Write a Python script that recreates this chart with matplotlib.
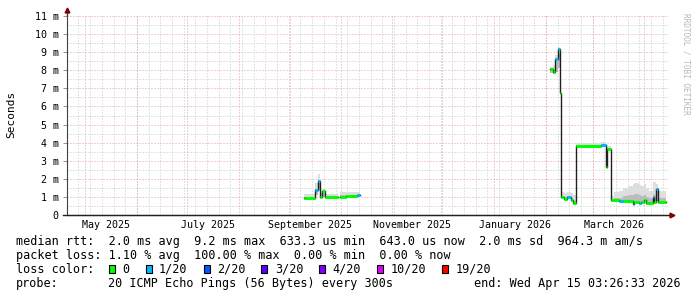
import numpy as np
import pandas as pd
import matplotlib
matplotlib.use("Agg")
import matplotlib.pyplot as plt
import matplotlib.dates as mdates
from matplotlib.patches import Rectangle

plt.rcParams['font.family'] = ['DejaVu Sans Mono']

# smokeping step data (start time of each step, values in ms)
times = [
    "2025-09-09 06:00", "2025-09-15 18:00", "2025-09-17 10:00", "2025-09-18 18:00",
    "2025-09-19 18:00", "2025-09-21 10:00", "2025-09-29 10:00", "2025-09-30 10:00",
    "2025-10-04 00:00", "2025-10-08 00:00", "2025-10-11 00:00", "2025-10-12 10:00",
    "2026-02-03 06:00", "2026-02-05 12:00", "2026-02-06 18:00", "2026-02-08 06:00",
    "2026-02-09 12:00", "2026-02-10 06:00", "2026-02-11 18:00", "2026-02-13 18:00",
    "2026-02-15 18:00", "2026-02-17 06:00", "2026-02-18 18:00", "2026-03-05 18:00",
    "2026-03-08 18:00", "2026-03-09 18:00", "2026-03-11 18:00", "2026-03-14 00:00",
    "2026-03-16 12:00", "2026-03-19 00:00", "2026-03-22 00:00", "2026-03-25 00:00",
    "2026-03-25 12:00", "2026-03-28 12:00", "2026-03-29 18:00", "2026-03-31 12:00",
    "2026-04-01 18:00", "2026-04-04 00:00", "2026-04-06 00:00", "2026-04-06 12:00",
    "2026-04-07 18:00", "2026-04-09 00:00", "2026-04-13 18:00",
]
median = [
    0.95, 1.40, 1.90, 0.97, 1.30, 0.98, np.nan, 1.02, 1.06, 1.05, 1.10, np.nan,
    8.05, 7.90, 8.65, 9.15, 6.75, 0.98, 0.90, 1.00, 0.85, 0.65, 3.82, 3.86,
    2.63, 3.65, 0.83, 0.83, 0.76, 0.80, 0.80, 0.62, 0.70, 0.64, 0.72, 0.85,
    0.66, 0.66, 1.00, 0.72, 1.42, 0.70, np.nan,
]
loss = [
    0, 1, 1, 0, 0, 0, 0, 0, 0, 0, 1, 0,
    0, 0, 1, 1, 0, 0, 0, 1, 0, 0, 0, 1,
    0, 0, 0, 0, 1, 0, 0, 1, 0, 1, 0, 0,
    0, 0, 1, 0, 1, 0, 0,
]
smoke_lo = [
    0.92, 1.10, 1.40, 0.93, 1.00, 0.93, np.nan, 0.95, 0.98, 0.97, 1.00, np.nan,
    7.83, 7.80, 7.90, 8.10, 6.70, 0.95, 0.88, 0.95, 0.82, 0.62, 3.78, 3.80,
    2.60, 3.60, 0.80, 0.80, 0.72, 0.75, 0.75, 0.60, 0.66, 0.60, 0.68, 0.70,
    0.62, 0.62, 0.70, 0.65, 0.80, 0.65, np.nan,
]
smoke_mid = [
    1.02, 1.45, 1.95, 1.02, 1.35, 1.02, np.nan, 1.08, 1.10, 1.08, 1.12, np.nan,
    8.00, 8.00, 8.50, 8.90, 6.75, 1.05, 1.00, 1.05, 0.95, 0.80, 3.88, 3.90,
    2.65, 3.70, 0.88, 0.92, 0.95, 1.05, 1.10, 1.10, 1.15, 1.10, 1.05, 1.10,
    0.98, 0.92, 1.15, 1.10, 1.45, 0.95, np.nan,
]
smoke_hi = [
    1.18, 1.75, 2.25, 1.20, 1.45, 1.18, np.nan, 1.25, 1.28, 1.25, 1.29, np.nan,
    8.20, 8.30, 8.85, 9.30, 6.80, 1.29, 1.22, 1.28, 1.20, 1.10, 4.00, 4.05,
    2.70, 3.80, 1.05, 1.25, 1.30, 1.50, 1.62, 1.72, 1.77, 1.65, 1.60, 1.70,
    1.50, 1.35, 1.85, 1.80, 1.70, 1.35, np.nan,
]

loss_labels = ["0", "1/20", "2/20", "3/20", "4/20", "10/20", "19/20"]
loss_colors = ["#00ff00", "#00b8ff", "#0059ff", "#5e00ff", "#7e00ff", "#dd00ff", "#ff0000"]

y_ticks = list(range(12))
y_labels = ["0"] + ["%d m" % v for v in range(1, 12)]
x_labels = ["May 2025", "July 2025", "September 2025", "November 2025", "January 2026", "March 2026"]
x_label_pos = ["2025-05-13 12:00", "2025-07-13 12:00", "2025-09-12 12:00",
               "2025-11-13 00:00", "2026-01-13 12:00", "2026-03-13 12:00"]

start = pd.Timestamp("2025-04-20 03:26:33")
end = pd.Timestamp("2026-04-15 03:26:33")

legend_lines = [
    "median rtt:  2.0 ms avg  9.2 ms max  633.3 us min  643.0 us now  2.0 ms sd  964.3 m am/s",
    "packet loss: 1.10 % avg  100.00 % max  0.00 % min  0.00 % now",
]

W, H = 697, 297
fig = plt.figure(figsize=(W / 100, H / 100), dpi=100)
fig.patch.set_facecolor("white")
ax = fig.add_axes([67 / W, 82 / H, 601 / W, 200 / H])

t = mdates.date2num(pd.to_datetime(times).to_pydatetime())
med = np.array(median)
lo = np.array(smoke_lo)
mid = np.array(smoke_mid)
hi = np.array(smoke_hi)
widths = np.diff(t)

# smoke
ax.bar(t[:-1], hi[:-1] - lo[:-1], bottom=lo[:-1], width=widths, align="edge",
       color="#dedede", linewidth=0, zorder=2)
ax.bar(t[:-1], mid[:-1] - lo[:-1], bottom=lo[:-1], width=widths, align="edge",
       color="#bcbcbc", linewidth=0, zorder=2)

# median line (black steps, colored by loss on top)
sx, sy = [], []
for i in range(len(t) - 1):
    if np.isnan(med[i]):
        sx += [t[i], t[i + 1]]
        sy += [np.nan, np.nan]
    else:
        sx += [t[i], t[i + 1]]
        sy += [med[i], med[i]]
ax.plot(sx, sy, color="#202020", lw=1.0, zorder=3)
for i in range(len(t) - 1):
    if not np.isnan(med[i]):
        ax.hlines(med[i], t[i], t[i + 1], color=loss_colors[loss[i]], lw=2.2, zorder=4)

ax.set_xlim(mdates.date2num(start), mdates.date2num(end))
ax.set_ylim(0, 200 / 18.09)

# grid
dot = (0, (1, 2))
for v in np.arange(0.5, 11.1, 0.5):
    c = "#e8a0a0" if v == int(v) else "#c8c8c8"
    ax.axhline(v, color=c, lw=0.72, ls=dot, zorder=1)
for d in pd.date_range("2025-04-20", "2026-04-15", freq="W-SUN"):
    ax.axvline(mdates.date2num(d), color="#c8c8c8", lw=0.72, ls=dot, zorder=1)
for d in pd.date_range("2025-05-01", "2026-04-15", freq="MS"):
    ax.axvline(mdates.date2num(d), color="#e8a0a0", lw=0.72, ls=dot, zorder=1)

for s in ["top", "right"]:
    ax.spines[s].set_visible(False)
ax.spines["left"].set_color("#404040")
ax.spines["bottom"].set_color("#202020")
ax.plot([0, 0], [1, 1.022], color="#404040", lw=1, transform=ax.transAxes, clip_on=False)
ax.plot([-0.006, 1.005], [0, 0], color="#202020", lw=1, transform=ax.transAxes, clip_on=False)
ax.plot(0, 1.024, marker="^", color="#800000", ms=3.5, transform=ax.transAxes, clip_on=False)
ax.plot(1.006, 0, marker=">", color="#800000", ms=3.5, transform=ax.transAxes, clip_on=False)

ax.set_yticks(y_ticks)
ax.set_yticklabels(y_labels)
ax.tick_params(axis="y", length=3, width=0.7, color="#909090", pad=2.9, labelsize=7.2)
ax.set_xticks([])
for lbl, pos in zip(x_labels, x_label_pos):
    ax.annotate(lbl, xy=(mdates.date2num(pd.Timestamp(pos)), 0),
                xycoords=("data", "axes fraction"), xytext=(0, -7.3),
                textcoords="offset points", ha="center", va="center", fontsize=7.2)

fig.text(11 / W, 1 - 114 / H, "Seconds", rotation=90, ha="center", va="center", fontsize=8)
fig.text(686 / W, 1 - 64 / H, "RRDTOOL / TOBI OETIKER", rotation=270, ha="center",
         va="center", fontsize=5.6, color="#b8b8b8")

# legend block
row_y = [241.5, 255.5, 269.3, 283]
fs = 8.5
cw = 7.1
fig.text(16 / W, 1 - row_y[0] / H, legend_lines[0], ha="left", va="center", fontsize=fs)
fig.text(16 / W, 1 - row_y[1] / H, legend_lines[1], ha="left", va="center", fontsize=fs)
fig.text(16 / W, 1 - row_y[2] / H, "loss color:", ha="left", va="center", fontsize=fs)
bx = 109
for lbl, col in zip(loss_labels, loss_colors):
    fig.add_artist(Rectangle((bx / W, 1 - (row_y[2] + 4) / H), 6 / W, 8 / H,
                             transform=fig.transFigure, facecolor=col,
                             edgecolor="black", lw=0.8))
    tx = bx + 13.5
    fig.text(tx / W, 1 - row_y[2] / H, lbl, ha="left", va="center", fontsize=fs)
    bx = tx + len(lbl) * cw + 16
fig.text(16 / W, 1 - row_y[3] / H, "probe:", ha="left", va="center", fontsize=fs)
fig.text(108 / W, 1 - row_y[3] / H, "20 ICMP Echo Pings (56 Bytes) every 300s",
         ha="left", va="center", fontsize=fs)
fig.text(681 / W, 1 - row_y[3] / H, "end: Wed Apr 15 03:26:33 2026",
         ha="right", va="center", fontsize=fs)

fig.savefig("out.png", dpi=100, facecolor="white")
